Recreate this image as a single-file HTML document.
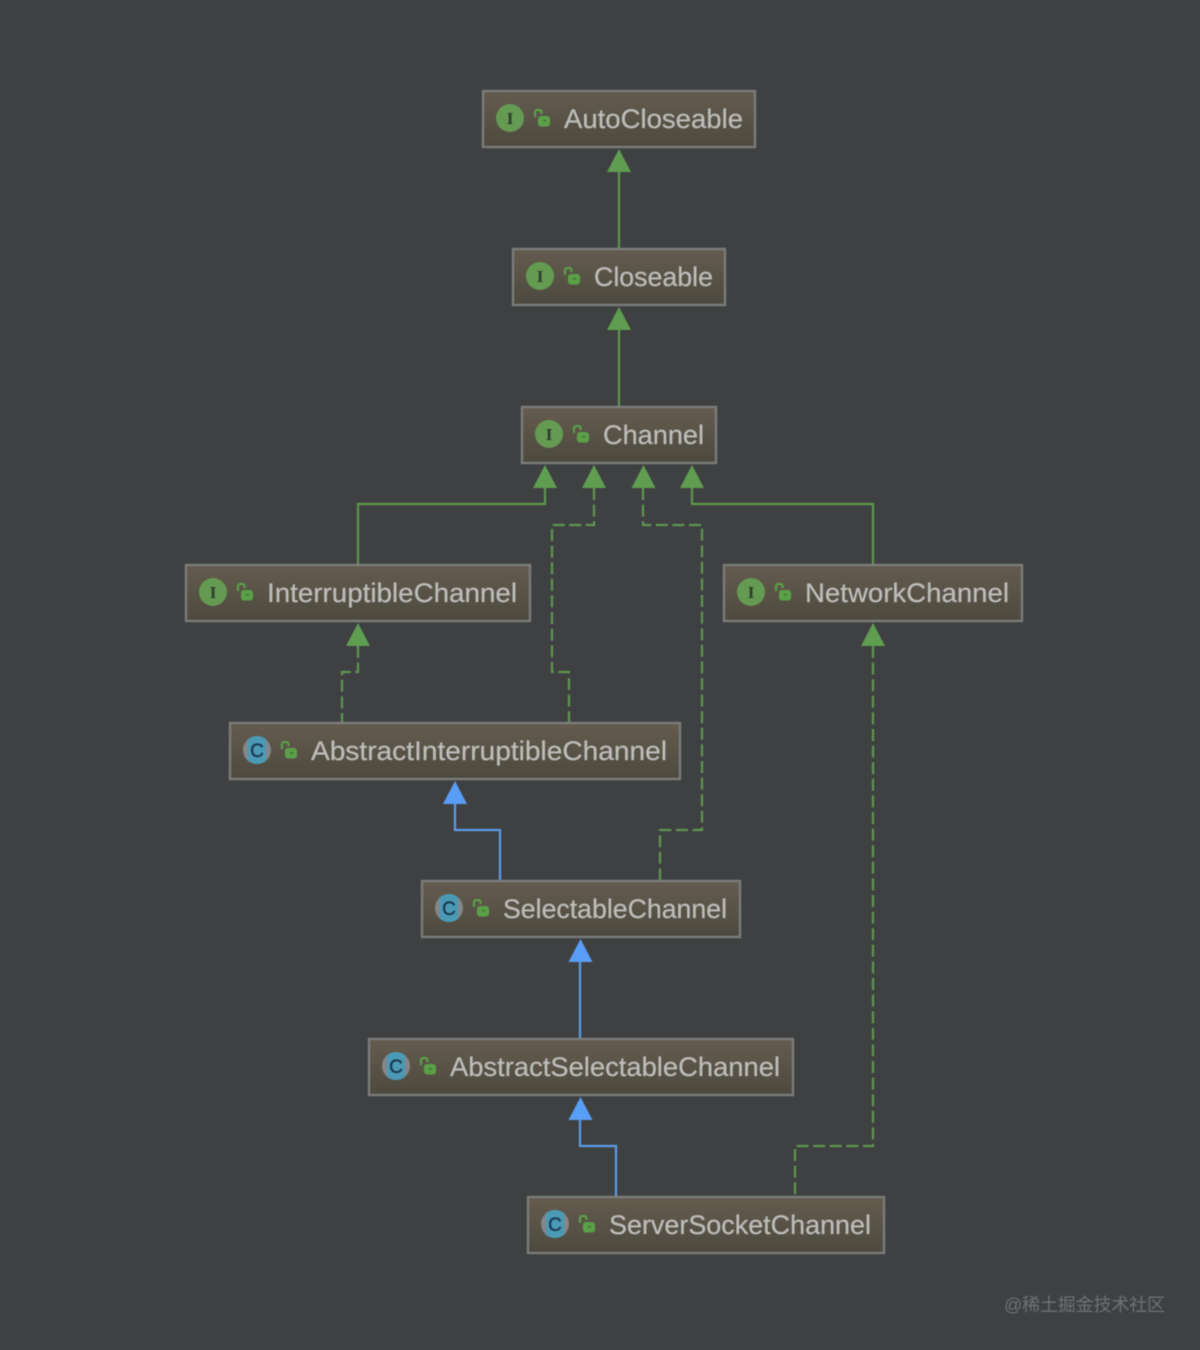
<!DOCTYPE html>
<html>
<head>
<meta charset="utf-8">
<style>
html,body{margin:0;padding:0;background:#3f4042;width:1200px;height:1350px;overflow:hidden}
svg{display:block;filter:blur(0.45px)}
.t{font-family:"Liberation Sans",sans-serif;font-size:27px;fill:#bdbdba;stroke:#bdbdba;stroke-width:0.25}
.g{fill:none;stroke:#5e9650;stroke-width:2.2}
.d{fill:none;stroke:#5e9650;stroke-width:2.2;stroke-dasharray:12 4.6}
.b{fill:none;stroke:#5a9ce8;stroke-width:2.2}
.ag{fill:#5f9e50}
.ab{fill:#589df6}
.box{fill:url(#bg);stroke:#7b7c7b;stroke-width:2.4}
.i{fill:#659a52}
.il{font-family:"Liberation Serif",serif;font-size:17px;font-weight:bold;fill:#2e3d2b;text-anchor:middle}
.cl{font-family:"Liberation Sans",sans-serif;font-size:19px;fill:#1c3550;stroke:#1c3550;stroke-width:0.4;text-anchor:middle}
.lk{fill:none;stroke:#5aa047;stroke-width:2.2}
.lb{fill:#5aa047}
</style>
</head>
<body>
<svg width="1200" height="1350" viewBox="0 0 1200 1350" xmlns="http://www.w3.org/2000/svg">
<defs>
<linearGradient id="bg" x1="0" y1="0" x2="0" y2="1">
<stop offset="0" stop-color="#645b4e"/>
<stop offset="0.5" stop-color="#595347"/>
<stop offset="1" stop-color="#4c493e"/>
</linearGradient>
<g id="lock">
<path class="lk" d="M1 7 V2.500 Q1 0 3.500 0 H5 Q7.500 0 7.500 2.500 V4"/>
<rect class="lb" x="4" y="6" width="12" height="10.500" rx="3"/>
<rect x="9" y="10" width="3" height="1.500" fill="#3f6d35"/>
</g>
<g id="ci">
<circle cx="0" cy="0" r="14" fill="#85868a"/>
<path d="M-9 -11 Q0 -17 9 -11 V11 Q0 17 -9 11 Z" fill="#4a9ab5"/>
<text class="cl" x="0" y="7">C</text>
</g>
</defs>

<rect width="1200" height="1350" fill="#3f4042"/>

<!-- connectors -->
<path class="g" d="M619 172V249"/>
<path class="g" d="M619 330V407"/>
<path class="g" d="M358 565V504H545V488"/>
<path class="g" d="M873 565V504H692V488"/>
<path class="d" d="M594 488V525H552V672H569V723"/>
<path class="d" d="M643 488V525H702V830H660V881"/>
<path class="d" d="M358 646V672H342V723"/>
<path class="b" d="M455 804V830H500V881"/>
<path class="b" d="M580 962V1039"/>
<path class="b" d="M580 1120V1146H616V1197"/>
<path class="d" d="M873 646V1146H795V1197"/>

<!-- arrowheads -->
<polygon class="ag" points="619,149 631,172 607,172"/>
<polygon class="ag" points="619,307 631,330 607,330"/>
<polygon class="ag" points="545,465 557,488 533,488"/>
<polygon class="ag" points="594,465 606,488 582,488"/>
<polygon class="ag" points="643.500,465 655.500,488 631.500,488"/>
<polygon class="ag" points="692,465 704,488 680,488"/>
<polygon class="ag" points="358,623 370,646 346,646"/>
<polygon class="ag" points="873,623 885,646 861,646"/>
<polygon class="ab" points="455,781 467,804 443,804"/>
<polygon class="ab" points="580.500,939 592.500,962 568.500,962"/>
<polygon class="ab" points="580.500,1097 592.500,1120 568.500,1120"/>

<!-- AutoCloseable -->
<rect class="box" x="483" y="91" width="272" height="56"/>
<circle class="i" cx="510" cy="118" r="14"/><text class="il" x="510" y="124">I</text>
<use href="#lock" x="534" y="110"/>
<text class="t" x="564" y="128" textLength="179" lengthAdjust="spacingAndGlyphs">AutoCloseable</text>

<!-- Closeable -->
<rect class="box" x="513" y="249" width="212" height="56"/>
<circle class="i" cx="540" cy="276" r="14"/><text class="il" x="540" y="282">I</text>
<use href="#lock" x="564" y="268"/>
<text class="t" x="594" y="286" textLength="119" lengthAdjust="spacingAndGlyphs">Closeable</text>

<!-- Channel -->
<rect class="box" x="522" y="407" width="194" height="56"/>
<circle class="i" cx="549" cy="434" r="14"/><text class="il" x="549" y="440">I</text>
<use href="#lock" x="573" y="426"/>
<text class="t" x="603" y="444" textLength="101" lengthAdjust="spacingAndGlyphs">Channel</text>

<!-- InterruptibleChannel -->
<rect class="box" x="186" y="565" width="344" height="56"/>
<circle class="i" cx="213" cy="592" r="14"/><text class="il" x="213" y="598">I</text>
<use href="#lock" x="237" y="584"/>
<text class="t" x="267" y="602" textLength="250" lengthAdjust="spacingAndGlyphs">InterruptibleChannel</text>

<!-- NetworkChannel -->
<rect class="box" x="724" y="565" width="298" height="56"/>
<circle class="i" cx="751" cy="592" r="14"/><text class="il" x="751" y="598">I</text>
<use href="#lock" x="775" y="584"/>
<text class="t" x="805" y="602" textLength="204" lengthAdjust="spacingAndGlyphs">NetworkChannel</text>

<!-- AbstractInterruptibleChannel -->
<rect class="box" x="230" y="723" width="450" height="56"/>
<use href="#ci" x="257" y="750"/>
<use href="#lock" x="281" y="742"/>
<text class="t" x="311" y="760" textLength="356" lengthAdjust="spacingAndGlyphs">AbstractInterruptibleChannel</text>

<!-- SelectableChannel -->
<rect class="box" x="422" y="881" width="318" height="56"/>
<use href="#ci" x="449" y="908"/>
<use href="#lock" x="473" y="900"/>
<text class="t" x="503" y="918" textLength="224" lengthAdjust="spacingAndGlyphs">SelectableChannel</text>

<!-- AbstractSelectableChannel -->
<rect class="box" x="369" y="1039" width="424" height="56"/>
<use href="#ci" x="396" y="1066"/>
<use href="#lock" x="420" y="1058"/>
<text class="t" x="450" y="1076" textLength="330" lengthAdjust="spacingAndGlyphs">AbstractSelectableChannel</text>

<!-- ServerSocketChannel -->
<rect class="box" x="528" y="1197" width="356" height="56"/>
<use href="#ci" x="555" y="1224"/>
<use href="#lock" x="579" y="1216"/>
<text class="t" x="609" y="1234" textLength="262" lengthAdjust="spacingAndGlyphs">ServerSocketChannel</text>

<!-- watermark -->
<text x="1004" y="1311" font-family="'Liberation Sans','Noto Sans CJK SC',sans-serif" font-size="18" fill="#6f7173" textLength="161">@稀土掘金技术社区</text>
</svg>
</body>
</html>
